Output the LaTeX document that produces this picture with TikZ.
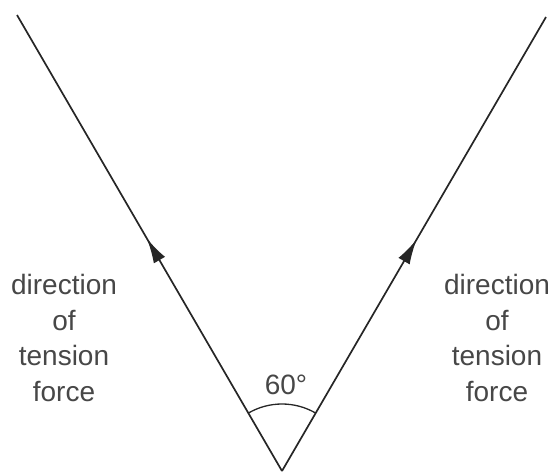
\documentclass[tikz,border=0pt]{standalone}
\usepackage{fontspec}
\setmainfont{Liberation Sans}
\usetikzlibrary{arrows.meta,decorations.markings,calc}
\begin{document}
\begin{tikzpicture}[x=1pt,y=-1pt,
  rope/.style={line width=1.7pt,draw=black!85},
  midarrow/.style={postaction={decorate},decoration={markings,
     mark=at position #1 with {\arrow{Latex[length=25pt,width=13pt]}}}},
  lbl/.style={text=black!72,font=\fontsize{28}{35.5}\selectfont,align=center,inner sep=0pt}]
\useasboundingbox (0,0) rectangle (559,474);
\coordinate (V) at (282,471);
\coordinate (L) at (17,15);
\coordinate (R) at (546,17);
\draw[rope,midarrow=0.51] (V) -- (L);
\draw[rope,midarrow=0.51] (V) -- (R);
\draw[line width=1.3pt,draw=black!85] ($(V)+(240:67)$) arc[start angle=240,end angle=300,radius=67];
\node[lbl] (ang) at (286,385) {60°};
\node[lbl] (tl) at (64,338) {direction\\of\\tension\\force};
\node[lbl] (tr) at (497,338) {direction\\of\\tension\\force};
\end{tikzpicture}
\end{document}
